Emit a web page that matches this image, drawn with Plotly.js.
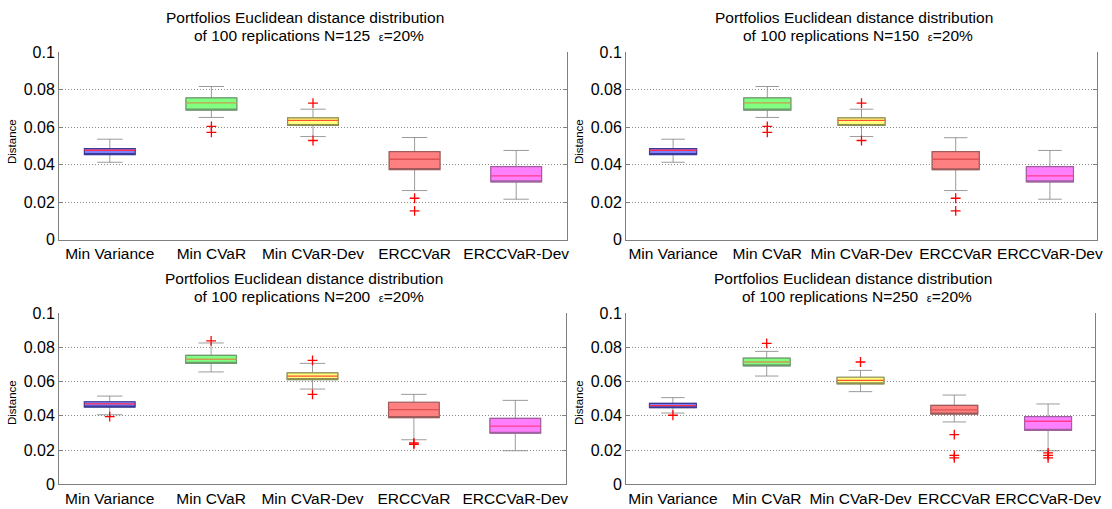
<!DOCTYPE html>
<html>
<head>
<meta charset="utf-8">
<script src="https://cdn.plot.ly/plotly-3.0.1.min.js"></script>
<style>html,body{margin:0;padding:0;background:#fff;}#chart{width:1112px;height:509px;}</style>
</head>
<body>
<div id="chart"></div>
<script>
// ---- data ----
const categories = ['Min Variance', 'Min CVaR', 'Min CVaR-Dev', 'ERCCVaR', 'ERCCVaR-Dev'];
const sampleSizes = [125, 150, 200, 250];

const lo125  = [0.0412, 0.0651, 0.0549, 0.0261, 0.0215];
const q1_125 = [0.0453, 0.0690, 0.0608, 0.0373, 0.0307];
const med125 = [0.0476, 0.0729, 0.0635, 0.0428, 0.0339];
const q3_125 = [0.0485, 0.0755, 0.0649, 0.0469, 0.0389];
const hi125  = [0.0535, 0.0816, 0.0695, 0.0544, 0.0475];
const out125 = [[], [0.0603, 0.0571], [0.0727, 0.0528], [0.0220, 0.0153], []];

const lo150  = [0.0412, 0.0651, 0.0549, 0.0261, 0.0215];
const q1_150 = [0.0453, 0.0690, 0.0608, 0.0372, 0.0307];
const med150 = [0.0476, 0.0729, 0.0635, 0.0428, 0.0339];
const q3_150 = [0.0485, 0.0755, 0.0649, 0.0469, 0.0389];
const hi150  = [0.0535, 0.0816, 0.0695, 0.0543, 0.0475];
const out150 = [[], [0.0603, 0.0571], [0.0727, 0.0528], [0.0220, 0.0153], []];

const lo200  = [0.0406, 0.0656, 0.0556, 0.0260, 0.0196];
const q1_200 = [0.0451, 0.0706, 0.0611, 0.0389, 0.0298];
const med200 = [0.0469, 0.0730, 0.0632, 0.0436, 0.0340];
const q3_200 = [0.0482, 0.0753, 0.0651, 0.0479, 0.0385];
const hi200  = [0.0515, 0.0825, 0.0706, 0.0525, 0.0490];
const out200 = [[0.0395], [0.0837], [0.0724, 0.0525], [0.0241, 0.0233], []];

const lo250  = [0.0416, 0.0632, 0.0541, 0.0364, 0.0196];
const q1_250 = [0.0447, 0.0691, 0.0586, 0.0410, 0.0315];
const med250 = [0.0459, 0.0714, 0.0607, 0.0434, 0.0368];
const q3_250 = [0.0473, 0.0736, 0.0625, 0.0461, 0.0395];
const hi250  = [0.0506, 0.0776, 0.0665, 0.0521, 0.0469];
const out250 = [[0.0403], [0.0823], [0.0714], [0.0290, 0.0169, 0.0154], [0.0184, 0.0169, 0.0154]];

const yTickVals = [0, 0.02, 0.04, 0.06, 0.08, 0.1];
const yTickText = ['0', '0.02', '0.04', '0.06', '0.08', '0.1'];

// ---- styles ----
const fillColors    = ['#8080ff', '#80ff80', '#ffff80', '#ff8080', '#ff80ff'];
const outlineColors = ['#3a3a9a', '#6f9a6f', '#8f8f50', '#a05a5a', '#a060a0'];
const medianColors  = ['#ff3050', '#c8a050', '#ff5030', '#e05050', '#ff3c8c'];
const whiskerColor  = 'rgba(130,130,130,0.8)';

const panels = [
  {lo: lo125, q1: q1_125, med: med125, q3: q3_125, hi: hi125, out: out125},
  {lo: lo150, q1: q1_150, med: med150, q3: q3_150, hi: hi150, out: out150},
  {lo: lo200, q1: q1_200, med: med200, q3: q3_200, hi: hi200, out: out200},
  {lo: lo250, q1: q1_250, med: med250, q3: q3_250, hi: hi250, out: out250}
];

const W = 1112, H = 509;
// pixel boxes of the four axes: [left, right, top, bottom]
const boxes = [
  [59, 567, 52, 239.5],
  [626, 1097, 52, 239.5],
  [59, 566, 313, 484.3],
  [626, 1095, 313, 484.3]
];
const FONT = 'Liberation Sans, Arial, sans-serif';

const traces = [];
const layout = {
  width: W, height: H,
  margin: {l: 0, r: 0, t: 0, b: 0},
  paper_bgcolor: '#ffffff', plot_bgcolor: '#ffffff',
  showlegend: false,
  font: {family: FONT, color: '#000'},
  annotations: []
};

panels.forEach((p, k) => {
  const sfx = k === 0 ? '' : String(k + 1);
  const xa = 'x' + sfx, ya = 'y' + sfx;
  categories.forEach((c, i) => {
    // whiskers (full stats, gray)
    traces.push({
      type: 'box', xaxis: xa, yaxis: ya, x: [i],
      q1: [p.q1[i]], median: [p.med[i]], q3: [p.q3[i]],
      lowerfence: [p.lo[i]], upperfence: [p.hi[i]],
      width: 0.5, whiskerwidth: 0.5, boxpoints: false,
      line: {color: whiskerColor, width: 1}, fillcolor: 'rgba(0,0,0,0)',
      hoverinfo: 'skip'
    });
    // box body
    traces.push({
      type: 'box', xaxis: xa, yaxis: ya, x: [i],
      q1: [p.q1[i]], median: [p.q1[i]], q3: [p.q3[i]],
      lowerfence: [p.q1[i]], upperfence: [p.q3[i]],
      width: 0.5, whiskerwidth: 0, boxpoints: false,
      line: {color: outlineColors[i], width: 1.2}, fillcolor: fillColors[i],
      hoverinfo: 'skip'
    });
    // median line
    traces.push({
      type: 'box', xaxis: xa, yaxis: ya, x: [i],
      q1: [p.med[i]], median: [p.med[i]], q3: [p.med[i]],
      lowerfence: [p.med[i]], upperfence: [p.med[i]],
      width: 0.5, whiskerwidth: 0, boxpoints: false,
      line: {color: medianColors[i], width: 1.3}, fillcolor: 'rgba(0,0,0,0)',
      hoverinfo: 'skip'
    });
  });
  // outliers
  const ox = [], oy = [];
  p.out.forEach((arr, i) => arr.forEach(v => { ox.push(i); oy.push(v); }));
  traces.push({
    type: 'scatter', mode: 'markers', xaxis: xa, yaxis: ya, x: ox, y: oy,
    marker: {symbol: 'cross-thin', size: 7, color: '#ff0000', line: {color: '#ff0000', width: 1.3}},
    hoverinfo: 'skip'
  });

  const b = boxes[k];
  const xd = [b[0] / W, b[1] / W];
  const yd = [1 - b[3] / H, 1 - b[2] / H];
  layout['xaxis' + sfx] = {
    domain: xd, anchor: ya, range: [-0.5, 4.5],
    tickvals: [0, 1, 2, 3, 4], ticktext: categories, ticks: '',
    showgrid: false, zeroline: false, showline: true, linecolor: '#808080', linewidth: 1,
    tickfont: {family: FONT, size: 15.5, color: '#000'}, fixedrange: true
  };
  layout['yaxis' + sfx] = {
    domain: yd, anchor: xa, range: [0, 0.1],
    tickvals: yTickVals, ticktext: yTickText,
    ticks: 'inside', ticklen: 4, tickcolor: '#808080',
    showline: true, mirror: 'ticks', linecolor: '#808080', linewidth: 1,
    showgrid: true, gridcolor: '#8a8a8a', griddash: '1px,2px', gridwidth: 1,
    zeroline: false, tickfont: {family: FONT, size: 16, color: '#000'}, fixedrange: true
  };
  const cx = (b[0] + b[1]) / 2 / W;
  layout.annotations.push({
    xref: 'paper', yref: 'paper', x: cx - 8 / W, y: 1 - (b[2] - 35) / H,
    xanchor: 'center', yanchor: 'middle', showarrow: false,
    text: 'Portfolios Euclidean distance distribution',
    font: {family: FONT, size: 15.5, color: '#000'}
  });
  layout.annotations.push({
    xref: 'paper', yref: 'paper', x: cx - 4 / W, y: 1 - (b[2] - 17) / H,
    xanchor: 'center', yanchor: 'middle', showarrow: false,
    text: 'of 100 replications N=' + sampleSizes[k] + '  <span style="font-size:11px">ε</span>=20%',
    font: {family: FONT, size: 15.5, color: '#000'}
  });
  layout.annotations.push({
    xref: 'paper', yref: 'paper', x: (b[0] - 47) / W, y: 1 - (b[2] + 90) / H,
    xanchor: 'center', yanchor: 'middle', showarrow: false, textangle: -90,
    text: 'Distance', font: {family: FONT, size: 11.5, color: '#000'}
  });
});

Plotly.newPlot('chart', traces, layout, {staticPlot: true, displayModeBar: false});
</script>
</body>
</html>
